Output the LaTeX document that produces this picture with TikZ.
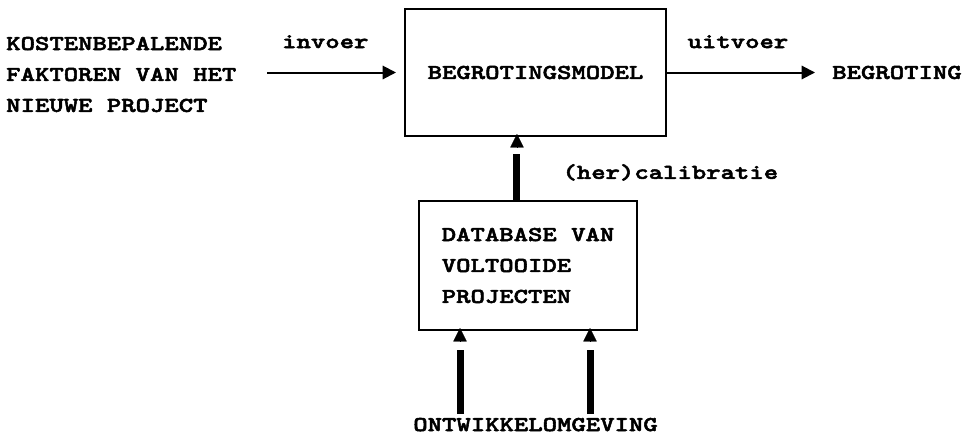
\documentclass[tikz,border=0pt]{standalone}
\usepackage{fontspec}
\newfontfamily\typewriter[FakeStretch=1.3, FakeBold=2.5]{lmmonolt10-bold.otf}
\usetikzlibrary{arrows.meta,positioning}

\begin{document}
\begin{tikzpicture}[
        x=0.75pt, y=0.75pt,
        font=\typewriter\fontsize{15.8}{23.2}\selectfont,
        box/.style={draw, line width=1.5pt, inner sep=0pt},
        arr/.style={-{Triangle[length=10pt, width=10pt]}, line width=1.5pt},
        bar/.style={line width=5.25pt},
        tip/.style={-{Triangle[length=10pt, width=10pt]}, line width=0.1pt}
    ]
        \useasboundingbox (0,0) rectangle (969,-439);
        \node[box, minimum width=195.75pt, minimum height=95.25pt] (model) at (535.5,-72.5) {BEGROTINGSMODEL};
        \node[anchor=west, align=left, inner sep=0pt] (fac) at (6,-74.5) {KOSTENBEPALENDE\\FAKTOREN VAN HET\\NIEUWE PROJECT};
        \node[inner sep=0pt, right=123.75pt of model] (out) {BEGROTING};
        \node[box, align=left, minimum width=163.5pt, minimum height=96.75pt, below=47.25pt of model, xshift=-5.6pt] (db) {DATABASE VAN\\VOLTOOIDE\\PROJECTEN};
        \node[inner sep=3pt, below=62pt of db, xshift=5.6pt] (env) {ONTWIKKELOMGEVING};

        \draw[arr, shorten <=23pt, shorten >=6pt] (fac.east |- model.west) -- node[pos=0.53, above=17.5pt, inner sep=0pt]{invoer} (model.west);
        \draw[arr, shorten >=12.75pt] (model.east) -- node[pos=0.43, above=17.5pt, inner sep=0pt]{uitvoer} (out.west);

        % terugkoppeling uit de database
        \coordinate (cal) at ([xshift=-13.9pt]model.south);
        \draw[bar] (cal |- db.north) -- node[pos=0.6, right=31.5pt, inner sep=0pt]{(her)calibratie} ([yshift=-12.75pt]cal);
        \draw[tip] ([yshift=-7.75pt]cal) -- ([yshift=2.25pt]cal);

        % twee aanvoerlijnen vanuit de omgeving
        \foreach \dx in {-51pt,46.5pt} {
            \coordinate (d) at ([xshift=\dx]db.south);
            \draw[bar] (d |- env.north) -- ([yshift=-14.25pt]d);
            \draw[tip] ([yshift=-7.75pt]d) -- ([yshift=2.25pt]d);
        }
    \end{tikzpicture}
\end{document}
